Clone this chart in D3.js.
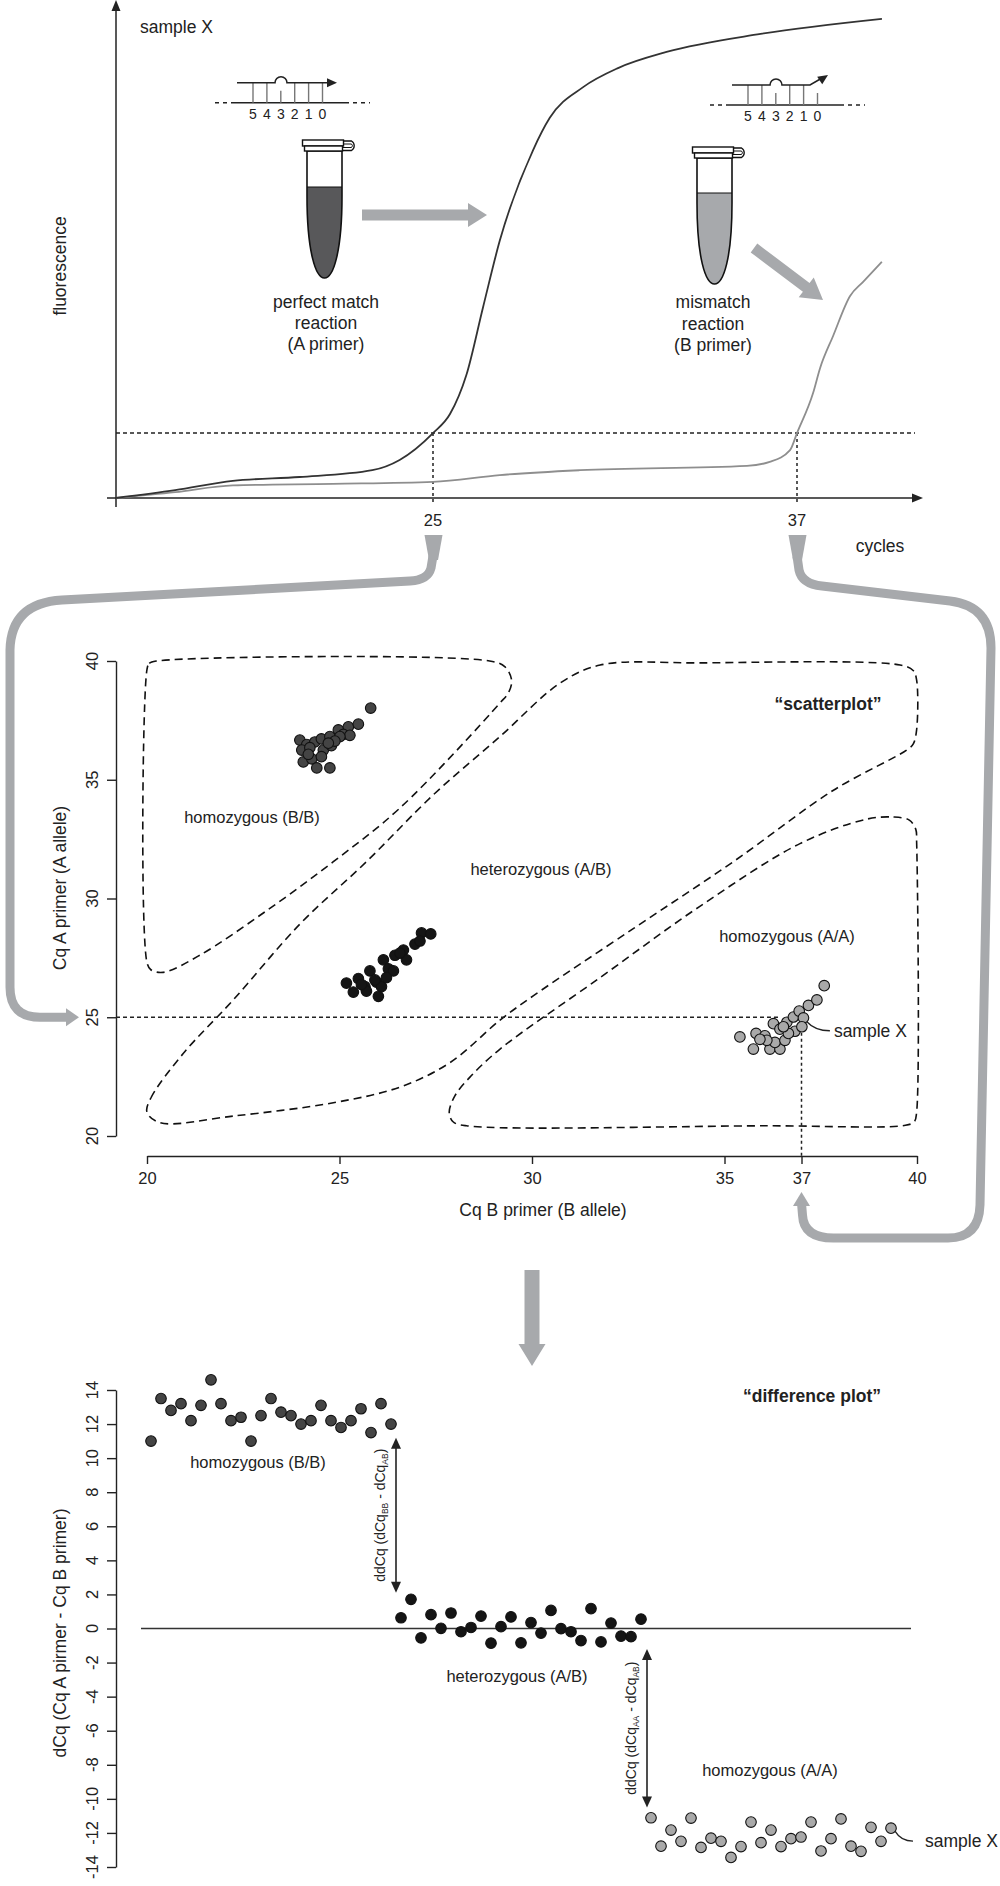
<!DOCTYPE html>
<html lang="en">
  <head>
    <meta charset="utf-8">
    <title>allele-specific qPCR genotyping</title>
    <script src="https://d3js.org/d3.v7.min.js"></script>
    <style>
      body { margin: 0; background: #fff; }
      text { font-family: "Liberation Sans", Arial, Helvetica, sans-serif; fill: #222; }
    </style>
  </head>
  <body>
    <svg id="fig" width="1000" height="1886"></svg>
    <script>

      // ---- amplification curves: [cycle, fluorescence]
      const darkCurve = [[14.55, 0], [16.5, 1.6], [18.4, 3.5], [20.6, 4.3], [23.0, 5.7], [23.9, 7.8],
        [25.0, 13.3], [25.56, 17.2], [26.1, 25.2], [26.65, 39.1], [27.2, 52.7], [28.3, 71.3],
        [28.85, 77.9], [29.95, 84.2], [31.1, 88.1], [32.7, 91.4], [35.8, 95.1], [39.8, 98.2]]
      const grayCurve = [[14.55, 0], [16.5, 1.2], [18.4, 2.6], [21.7, 2.9], [25.0, 3.3], [27.2, 4.7],
        [29.85, 5.7], [35.35, 6.6], [36.1, 7.4], [36.77, 9.8], [37.0, 13.3], [37.53, 21.5],
        [37.76, 26.6], [38.19, 33.2], [38.75, 41.4], [39.18, 44.3], [39.8, 48.4]]
      const threshold = 13.3
      const cqTicks = [25, 37]
      const primerPositions = ['5', '4', '3', '2', '1', '0']

      // ---- scatterplot: [Cq B primer, Cq A primer]
      const scatterBB = [[23.97, 36.67], [24.15, 36.48], [24.36, 36.59], [24.53, 36.72], [24.75, 36.82],
        [24.97, 37.10], [25.23, 37.23], [25.49, 37.34], [25.81, 38.02], [24.02, 36.25], [24.23, 36.35],
        [24.58, 36.25], [24.79, 36.44], [25.10, 36.91], [25.27, 36.87], [25.01, 36.82], [24.06, 35.75],
        [24.28, 35.88], [24.41, 35.50], [24.75, 35.50], [24.53, 35.97], [24.88, 36.63], [24.19, 36.07],
        [24.71, 36.54]]
      const scatterAB = [[25.18, 26.44], [25.36, 26.06], [25.49, 26.63], [25.66, 26.29], [25.79, 26.95],
        [25.96, 26.48], [26.14, 27.42], [26.27, 27.04], [26.01, 25.88], [26.44, 27.61], [26.66, 27.83],
        [26.74, 27.42], [26.96, 28.08], [27.13, 28.55], [27.37, 28.51], [26.40, 26.95], [26.09, 26.29],
        [25.70, 26.10], [26.57, 27.70], [26.22, 26.67], [27.09, 28.21], [25.92, 26.57], [25.57, 26.38]]
      const scatterAA = [[35.40, 24.17], [35.75, 23.66], [35.82, 24.32], [36.05, 24.22], [36.18, 23.66],
        [36.44, 23.66], [36.31, 23.94], [36.57, 24.03], [36.27, 24.73], [36.44, 24.50], [36.62, 24.79],
        [36.79, 25.01], [36.94, 25.26], [37.18, 25.50], [37.40, 25.73], [37.59, 26.33], [36.83, 24.41],
        [36.66, 24.32], [36.10, 24.03], [35.92, 24.07], [36.53, 24.60], [37.05, 24.97], [37.01, 24.60]]
      const sampleX = [37.01, 24.60]
      const sampleCq = [37, 25]

      // gating regions drawn as dashed outlines
      const regionBB = [[20.0, 39.65], [20.06, 39.9], [20.25, 40.0], [28.9, 40.0], [29.3, 39.75], [29.47, 39.2],
        [29.4, 38.7], [29.15, 38.2], [26.57, 33.81], [24.84, 31.55], [23.11, 29.49], [21.37, 27.61],
        [20.42, 26.89], [20.1, 27.0], [20.0, 27.3]]
      const regionAB = [[20.0, 21.0], [20.1, 21.6], [20.94, 23.47], [22.24, 25.73], [23.97, 28.92],
        [25.70, 31.55], [27.44, 34.37], [29.17, 36.82], [30.73, 39.07], [31.77, 39.83], [34.36, 39.92],
        [39.56, 39.83], [39.9, 39.6], [39.99, 39.2], [39.99, 37.1], [39.9, 36.5], [39.73, 36.25],
        [37.83, 34.56], [35.23, 31.55], [32.63, 28.73], [30.04, 25.91], [29.17, 24.88], [27.87, 23.09],
        [26.57, 22.06], [24.84, 21.40], [22.24, 20.84], [20.34, 20.56]]
      const regionAA = [[38.69, 33.34], [39.39, 33.43], [39.8, 33.3], [39.97, 32.9], [39.99, 32.4],
        [39.99, 21.0], [39.93, 20.6], [39.7, 20.45], [36.1, 20.43], [28.3, 20.43], [27.95, 20.6],
        [27.85, 21.0], [28.0, 21.7], [28.4, 22.5], [29.17, 23.66], [31.77, 26.67], [34.36, 29.67],
        [36.96, 32.31]]
      const scatterXTicks = [20, 25, 30, 35, 37, 40]
      const scatterYTicks = [20, 25, 30, 35, 40]

      // ---- difference plot: dCq per sample, in plotting order
      const diffBB = [11.0, 13.5, 12.8, 13.2, 12.2, 13.1, 14.6, 13.2, 12.2, 12.4, 11.0, 12.5, 13.5,
        12.7, 12.5, 12.0, 12.2, 13.1, 12.2, 11.8, 12.2, 12.9, 11.5, 13.2, 12.0]
      const diffAB = [0.63, 1.71, -0.55, 0.81, 0.01, 0.91, -0.19, 0.06, 0.73, -0.86, 0.11, 0.68, -0.84,
        0.35, -0.27, 1.06, -0.01, -0.19, -0.71, 1.17, -0.79, 0.32, -0.45, -0.48, 0.55]
      const diffAA = [-11.11, -12.78, -11.83, -12.49, -11.13, -12.85, -12.31, -12.49, -13.44, -12.80,
        -11.36, -12.57, -11.83, -12.80, -12.34, -12.24, -11.36, -13.06, -12.34, -11.18, -12.78, -13.08,
        -11.67, -12.49, -11.72]
      const diffTicks = [-14, -12, -10, -8, -6, -4, -2, 0, 2, 4, 6, 8, 10, 12, 14]
      // ddCq arrows: [sample position, dCq from, dCq to, group]
      const ddArrows = [[24.5, 11.2, 2.1, 'BB'], [49.6, -1.2, -10.5, 'AA']]

      const svg = d3.select('#fig')
      const GRAY = '#a7a9ac'
      const INK = '#222'

      function txt(g, x, y, s, size, anchor, weight) {
        return g.append('text').attr('x', x).attr('y', y).attr('font-size', size)
          .attr('text-anchor', anchor || 'middle').attr('font-weight', weight || 'normal').text(s)
      }
      function vtxt(g, x, y, s, size) {
        return g.append('text').attr('transform', `translate(${x},${y}) rotate(-90)`)
          .attr('y', size * 0.35).attr('font-size', size).attr('text-anchor', 'middle').text(s)
      }
      function blockArrow(g, x1, y1, x2, y2, shaft, head, headLen) {
        const dx = x2 - x1, dy = y2 - y1, L = Math.hypot(dx, dy)
        const ux = dx / L, uy = dy / L, nx = -uy, ny = ux
        const bx = x2 - ux * headLen, by = y2 - uy * headLen
        const pts = [
          [x1 + nx * shaft / 2, y1 + ny * shaft / 2], [bx + nx * shaft / 2, by + ny * shaft / 2],
          [bx + nx * head / 2, by + ny * head / 2], [x2, y2], [bx - nx * head / 2, by - ny * head / 2],
          [bx - nx * shaft / 2, by - ny * shaft / 2], [x1 - nx * shaft / 2, y1 - ny * shaft / 2]]
        g.append('polygon').attr('points', pts.map(p => p.join(',')).join(' ')).attr('fill', GRAY)
      }
      function tri(g, pts, fill) {
        g.append('polygon').attr('points', pts.map(p => p.join(',')).join(' ')).attr('fill', fill)
      }

      // =============== panel 1: amplification plot
      const xCyc = d3.scaleLinear().domain([25, 37]).range([433, 797])
      const yFl = d3.scaleLinear().domain([0, 100]).range([498, 10])
      const p1 = svg.append('g')

      p1.append('line').attr('x1', 116).attr('x2', 116).attr('y1', 507).attr('y2', 8)
        .attr('stroke', INK).attr('stroke-width', 1.5)
      tri(p1, [[111.5, 11], [116, 0], [120.5, 11]], INK)
      p1.append('line').attr('x1', 107).attr('x2', 914).attr('y1', yFl(0)).attr('y2', yFl(0))
        .attr('stroke', INK).attr('stroke-width', 1.5)
      tri(p1, [[912, yFl(0) - 4.5], [923, yFl(0)], [912, yFl(0) + 4.5]], INK)

      p1.append('line').attr('x1', 116).attr('x2', 915).attr('y1', yFl(threshold)).attr('y2', yFl(threshold))
        .attr('stroke', INK).attr('stroke-width', 1.5).attr('stroke-dasharray', '4,3')
      p1.selectAll('.cq').data(cqTicks).join('line')
        .attr('x1', d => xCyc(d)).attr('x2', d => xCyc(d))
        .attr('y1', yFl(threshold)).attr('y2', yFl(0) + 7)
        .attr('stroke', INK).attr('stroke-width', 1.5).attr('stroke-dasharray', '3,3')
      p1.selectAll('.cqt').data(cqTicks).join('text')
        .attr('x', d => xCyc(d)).attr('y', 526).attr('font-size', 16.5).attr('text-anchor', 'middle')
        .text(d => d)

      const ampLine = d3.line().x(d => xCyc(d[0])).y(d => yFl(d[1])).curve(d3.curveMonotoneX)
      p1.append('path').attr('d', ampLine(grayCurve)).attr('fill', 'none')
        .attr('stroke', '#8e8e8e').attr('stroke-width', 1.8)
      p1.append('path').attr('d', ampLine(darkCurve)).attr('fill', 'none')
        .attr('stroke', '#333').attr('stroke-width', 1.8)

      txt(p1, 140, 33, 'sample X', 17.5, 'start')
      vtxt(p1, 60, 266, 'fluorescence', 17.5)
      txt(p1, 880, 552, 'cycles', 17.5)

      // primer / template sketch
      function dna(g, x0, y0, mismatch) {
        g.append('line').attr('x1', x0 - 21).attr('x2', x0 + 96).attr('y1', y0 + 20).attr('y2', y0 + 20)
          .attr('stroke', INK).attr('stroke-width', 1.6)
        g.append('line').attr('x1', x0 - 38).attr('x2', x0 - 21).attr('y1', y0 + 20).attr('y2', y0 + 20)
          .attr('stroke', INK).attr('stroke-width', 1.6).attr('stroke-dasharray', '4,4')
        g.append('line').attr('x1', x0 + 100).attr('x2', x0 + 117).attr('y1', y0 + 20).attr('y2', y0 + 20)
          .attr('stroke', INK).attr('stroke-width', 1.6).attr('stroke-dasharray', '4,4')
        primerPositions.forEach((p, i) => {
          const short = i === 2 || (mismatch && i === 5)
          g.append('line').attr('x1', x0 + i * 13.9).attr('x2', x0 + i * 13.9)
            .attr('y1', short ? y0 + 8 : y0).attr('y2', y0 + 20)
            .attr('stroke', '#777').attr('stroke-width', 1.4)
          txt(g, x0 + i * 13.9, y0 + 36, p, 14)
        })
        const end = mismatch ? `H${x0 + 62} L${x0 + 74},${y0 - 7}` : `H${x0 + 76}`
        g.append('path')
          .attr('d', `M${x0 - 16},${y0} H${x0 + 22} A6,6 0 0 1 ${x0 + 34},${y0} ${end}`)
          .attr('fill', 'none').attr('stroke', INK).attr('stroke-width', 1.6)
        if (mismatch) {
          const tx = x0 + 80, ty = y0 - 10, ux = 0.83, uy = -0.56
          tri(g, [[tx - ux * 10 + uy * 4.5, ty - uy * 10 - ux * 4.5], [tx, ty],
            [tx - ux * 10 - uy * 4.5, ty - uy * 10 + ux * 4.5]], INK)
        } else {
          tri(g, [[x0 + 74, y0 - 4.5], [x0 + 84, y0], [x0 + 74, y0 + 4.5]], INK)
        }
      }
      dna(p1, 253, 82.7, false)
      dna(p1, 748, 85, true)

      function tube(g, cx, top, liq, tip, fill) {
        const x0 = cx - 17.5, x1 = cx + 17.5
        const body = y => `M${x0},${y} L${x0},${top + 45} C${x0},${top + 100} ${cx - 9},${tip} ${cx},${tip}` +
          ` C${cx + 9},${tip} ${x1},${top + 100} ${x1},${top + 45} L${x1},${y} Z`
        g.append('path').attr('d', body(liq)).attr('fill', fill)
        g.append('path').attr('d', body(top)).attr('fill', 'none').attr('stroke', '#111').attr('stroke-width', 1.6)
        g.append('line').attr('x1', x0).attr('x2', x1).attr('y1', liq).attr('y2', liq)
          .attr('stroke', '#111').attr('stroke-width', 1.2)
        g.append('path').attr('d', `M${cx + 18},${top - 10} H${cx + 27} A5.5,5.5 0 0 1 ${cx + 27},${top - 0.5} H${cx + 18}`)
          .attr('fill', '#fff').attr('stroke', '#111').attr('stroke-width', 1.3)
        g.append('path').attr('d', `M${cx + 18},${top - 7} H${cx + 27} A2.3,2.3 0 0 1 ${cx + 27},${top - 3.5} H${cx + 18}`)
          .attr('fill', 'none').attr('stroke', '#111').attr('stroke-width', 1)
        g.append('rect').attr('x', cx - 22).attr('y', top - 11).attr('width', 41).attr('height', 6)
          .attr('fill', '#fff').attr('stroke', '#111').attr('stroke-width', 1.4)
        g.append('rect').attr('x', cx - 20).attr('y', top - 5).attr('width', 38).attr('height', 5)
          .attr('fill', '#fff').attr('stroke', '#111').attr('stroke-width', 1.4)
      }
      tube(p1, 324.5, 151, 187, 278, '#58585a')
      tube(p1, 714.5, 158, 193, 284, '#a7a9ac')

      txt(p1, 326, 308, 'perfect match', 17.5)
      txt(p1, 326, 329, 'reaction', 17.5)
      txt(p1, 326, 350, '(A primer)', 17.5)
      txt(p1, 713, 308, 'mismatch', 17.5)
      txt(p1, 713, 330, 'reaction', 17.5)
      txt(p1, 713, 351, '(B primer)', 17.5)

      blockArrow(p1, 362, 215, 487, 215, 11, 24, 19)
      blockArrow(p1, 754, 248, 823, 300, 11, 25, 21)

      // =============== panel 2: scatterplot
      const xS = d3.scaleLinear().domain([20, 40]).range([147, 917])
      const yS = d3.scaleLinear().domain([20, 40]).range([1136, 661])
      const p2 = svg.append('g')

      const styleAxis = g => {
        g.attr('font-family', null).attr('font-size', 16.5)
        g.selectAll('path, line').attr('stroke', INK).attr('stroke-width', 1.4)
        g.selectAll('text').attr('fill', INK)
      }
      // left axes carry their labels turned a quarter, drawn by hand from the scale
      function leftAxis(g, scale, ticks) {
        g.append('g').attr('transform', 'translate(116,0)')
          .call(d3.axisLeft(scale).tickValues(ticks).tickSize(9).tickSizeOuter(0).tickFormat(''))
          .call(styleAxis)
        g.append('g').selectAll('text').data(ticks).join('text')
          .attr('transform', d => `translate(98,${scale(d)}) rotate(-90)`)
          .attr('font-size', 16.5).attr('text-anchor', 'middle')
          .text(d => String(d))
      }

      p2.append('g').attr('transform', 'translate(0,1156)')
        .call(d3.axisBottom(xS).tickValues(scatterXTicks).tickSize(8).tickSizeOuter(0).tickPadding(8))
        .call(styleAxis)
      leftAxis(p2, yS, scatterYTicks)

      txt(p2, 543, 1216, 'Cq B primer (B allele)', 17.5)
      vtxt(p2, 60, 888, 'Cq A primer (A allele)', 17.5)

      const region = d3.line().x(d => xS(d[0])).y(d => yS(d[1])).curve(d3.curveCatmullRomClosed.alpha(0.5))
      p2.selectAll('.region').data([regionBB, regionAB, regionAA]).join('path')
        .attr('d', region).attr('fill', 'none').attr('stroke', '#111')
        .attr('stroke-width', 1.6).attr('stroke-dasharray', '8,5')

      p2.append('line').attr('x1', 116).attr('x2', xS(36.4)).attr('y1', yS(sampleCq[1])).attr('y2', yS(sampleCq[1]))
        .attr('stroke', INK).attr('stroke-width', 1.5).attr('stroke-dasharray', '4,3')
      p2.append('line').attr('x1', xS(sampleCq[0])).attr('x2', xS(sampleCq[0]))
        .attr('y1', yS(sampleX[1])).attr('y2', 1156)
        .attr('stroke', INK).attr('stroke-width', 1.5).attr('stroke-dasharray', '3,3')

      const dots = (g, data, fill, cx, cy) => g.append('g').selectAll('circle').data(data).join('circle')
        .attr('cx', cx).attr('cy', cy).attr('r', 5.3)
        .attr('fill', fill).attr('stroke', '#111').attr('stroke-width', 1.1)
      dots(p2, scatterBB, '#444', d => xS(d[0]), d => yS(d[1]))
      dots(p2, scatterAB, '#151515', d => xS(d[0]), d => yS(d[1]))
      dots(p2, scatterAA, '#a9a9a9', d => xS(d[0]), d => yS(d[1]))

      const sx = xS(sampleX[0]), sy = yS(sampleX[1])
      p2.append('path').attr('d', `M${sx + 5},${sy - 5} Q${sx + 13},${sy + 4} ${sx + 28},${sy + 4}`)
        .attr('fill', 'none').attr('stroke', INK).attr('stroke-width', 1.3)
      txt(p2, sx + 32, sy + 10, 'sample X', 17.5, 'start')

      txt(p2, 252, 823, 'homozygous (B/B)', 16.5)
      txt(p2, 541, 875, 'heterozygous (A/B)', 16.5)
      txt(p2, 787, 942, 'homozygous (A/A)', 16.5)
      txt(p2, 828, 710, '\u201cscatterplot\u201d', 17.5, 'middle', 'bold')

      // =============== connectors between panels
      const conn = svg.append('g')
      const c25 = xCyc(cqTicks[0]), c37 = xCyc(cqTicks[1])
      const yA25 = yS(sampleCq[1]), xB37 = xS(sampleCq[0])
      conn.append('path')
        .attr('d', `M${c25},556 L${c25 - 2},568 Q${c25 - 5},580 ${c25 - 23},581 L62,600 Q11,603 10,650 ` +
          `L10,${yA25 - 30} Q10,${yA25} 40,${yA25} L67,${yA25}`)
        .attr('fill', 'none').attr('stroke', GRAY).attr('stroke-width', 9)
      tri(conn, [[c25 - 8.5, 535], [c25 + 9.5, 535], [c25 + 5, 560], [c25 - 4, 560]], GRAY)
      tri(conn, [[66, yA25 - 9], [79, yA25], [66, yA25 + 9]], GRAY)

      conn.append('path')
        .attr('d', `M${c37},556 L${c37 + 2},570 Q${c37 + 5},584 ${c37 + 25},586 L950,601 Q991,606 991,648 ` +
          `L980,1205 Q979,1238 948,1238 L${xB37 + 32},1238 Q${xB37 + 2},1238 ${xB37 + 1},1215 L${xB37},1203`)
        .attr('fill', 'none').attr('stroke', GRAY).attr('stroke-width', 9)
      tri(conn, [[c37 - 8.5, 535], [c37 + 9.5, 535], [c37 + 5, 560], [c37 - 4, 560]], GRAY)
      tri(conn, [[xB37 - 8.5, 1206], [xB37, 1192], [xB37 + 8.5, 1206]], GRAY)

      blockArrow(conn, 532, 1270, 532, 1366, 15, 27, 22)

      // =============== panel 3: difference plot
      const xD = d3.scaleLinear().domain([-1, 76]).range([141, 911])
      const yD = d3.scaleLinear().domain([-14, 14]).range([1867, 1390])
      const p3 = svg.append('g')

      leftAxis(p3, yD, diffTicks)
      vtxt(p3, 60, 1633, 'dCq (Cq A pirmer - Cq B primer)', 17.5)

      p3.append('line').attr('x1', xD.range()[0]).attr('x2', xD.range()[1]).attr('y1', yD(0)).attr('y2', yD(0))
        .attr('stroke', '#333').attr('stroke-width', 1.5)

      const nBB = diffBB.length, nAB = diffAB.length
      dots(p3, diffBB, '#444', (d, i) => xD(i), d => yD(d))
      dots(p3, diffAB, '#151515', (d, i) => xD(nBB + i), d => yD(d))
      dots(p3, diffAA, '#a9a9a9', (d, i) => xD(nBB + nAB + i), d => yD(d))

      ddArrows.forEach(([pos, v1, v2, grp]) => {
        const x = xD(pos), y1 = yD(v1), y2 = yD(v2)
        p3.append('line').attr('x1', x).attr('x2', x).attr('y1', y1 + 8).attr('y2', y2 - 8)
          .attr('stroke', INK).attr('stroke-width', 1.6)
        tri(p3, [[x - 5, y1 + 11], [x, y1], [x + 5, y1 + 11]], INK)
        tri(p3, [[x - 5, y2 - 11], [x, y2], [x + 5, y2 - 11]], INK)
        const t = p3.append('text').attr('transform', `translate(${x - 16},${(y1 + y2) / 2}) rotate(-90)`)
          .attr('y', 5).attr('font-size', 14).attr('text-anchor', 'middle')
        t.append('tspan').text('ddCq (dCq')
        t.append('tspan').attr('dy', 3).attr('font-size', 8.5).text(grp)
        t.append('tspan').attr('dy', -3).text(' - dCq')
        t.append('tspan').attr('dy', 3).attr('font-size', 8.5).text('AB')
        t.append('tspan').attr('dy', -3).text(')')
      })

      const lx = xD(nBB + nAB + diffAA.length - 1), ly = yD(diffAA[diffAA.length - 1])
      p3.append('path').attr('d', `M${lx + 4},${ly + 3} Q${lx + 10},${ly + 13} ${lx + 22},${ly + 13}`)
        .attr('fill', 'none').attr('stroke', INK).attr('stroke-width', 1.3)
      txt(p3, lx + 34, ly + 19, 'sample X', 17.5, 'start')

      txt(p3, 258, 1468, 'homozygous (B/B)', 16.5)
      txt(p3, 517, 1682, 'heterozygous (A/B)', 16.5)
      txt(p3, 770, 1776, 'homozygous (A/A)', 16.5)
      txt(p3, 812, 1402, '\u201cdifference plot\u201d', 17.5, 'middle', 'bold')
    </script>
  </body>
</html>
